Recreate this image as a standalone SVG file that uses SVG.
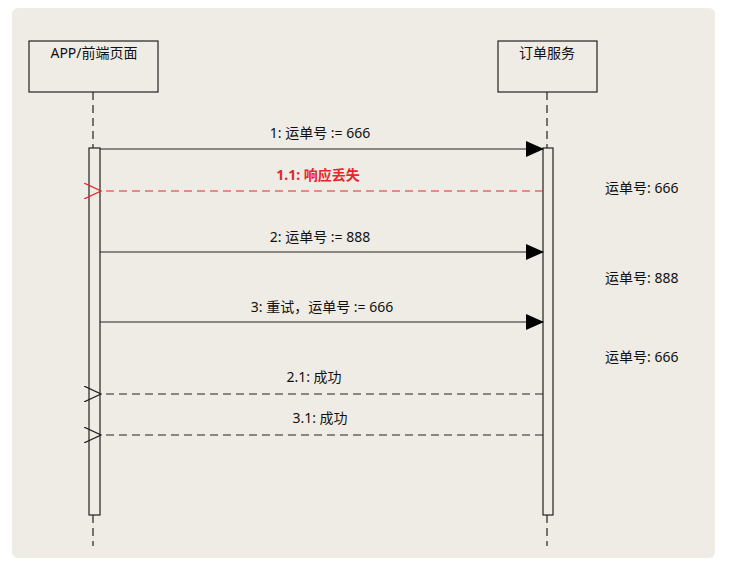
<svg xmlns="http://www.w3.org/2000/svg" width="733" height="567" viewBox="0 0 733 567">
<style>
text{font-family:"Noto Sans","Noto Sans CJK SC",sans-serif;font-size:14px;fill:#111}
.box{fill:none;stroke:#222;stroke-width:1.2}
.life{stroke:#222;stroke-width:1.2;stroke-dasharray:8,5}
.act{fill:#efece6;stroke:#222;stroke-width:1.2}
.sync{stroke:#222;stroke-width:1.2;fill:none}
.ret{stroke:#222;stroke-width:1.2;stroke-dasharray:8,5;fill:none}
.m{text-anchor:middle}
</style>
<defs>
<marker id="fill" markerWidth="18" markerHeight="16" refX="17" refY="8" orient="auto" markerUnits="userSpaceOnUse"><path d="M0,0 L18,8 L0,16 Z" fill="#000"/></marker>
<marker id="open" markerWidth="18" markerHeight="16" refX="1" refY="8" orient="auto-start-reverse" markerUnits="userSpaceOnUse"><path d="M18,0 L1,8 L18,16" fill="none" stroke="#222" stroke-width="1.2"/></marker>
<marker id="openr" markerWidth="18" markerHeight="16" refX="1" refY="8" orient="auto-start-reverse" markerUnits="userSpaceOnUse"><path d="M18,0 L1,8 L18,16" fill="none" stroke="#e8262b" stroke-width="1.2"/></marker>
</defs>
<rect width="733" height="567" fill="#fff"/>
<rect x="12" y="8" width="703" height="550" rx="6" fill="#efece6"/>
<g id="app">
<rect class="box" x="29" y="41" width="129" height="51"/>
<text class="m" x="94" y="58">APP/前端页面</text>
<line class="life" x1="93" y1="92" x2="93" y2="148"/>
<rect class="act" x="89" y="148" width="11" height="367"/>
<line class="life" x1="93" y1="515" x2="93" y2="546"/>
</g>
<g id="order">
<rect class="box" x="498" y="41" width="99" height="51"/>
<text class="m" x="547" y="58">订单服务</text>
<line class="life" x1="547" y1="92" x2="547" y2="148"/>
<rect class="act" x="543" y="148" width="10" height="367"/>
<line class="life" x1="547" y1="515" x2="547" y2="546"/>
</g>
<g id="connectors">
<line class="sync" x1="100" y1="149" x2="543" y2="149" marker-end="url(#fill)"/>
<line x1="543" y1="191" x2="101" y2="191" stroke="#e8262b" stroke-width="1.2" stroke-dasharray="8,5" marker-end="url(#openr)"/>
<line class="sync" x1="100" y1="252" x2="543" y2="252" marker-end="url(#fill)"/>
<line class="sync" x1="100" y1="322" x2="543" y2="322" marker-end="url(#fill)"/>
<line class="ret" x1="543" y1="394" x2="101" y2="394" marker-end="url(#open)"/>
<line class="ret" x1="543" y1="435" x2="101" y2="435" marker-end="url(#open)"/>
</g>
<g id="labels">
<text class="m" x="320" y="138">1: 运单号 := 666</text>
<text class="m" x="318" y="180" style="fill:#e8262b;font-weight:bold">1.1: 响应丢失</text>
<text class="m" x="320" y="242">2: 运单号 := 888</text>
<text class="m" x="322" y="312">3: 重试，运单号 := 666</text>
<text class="m" x="314" y="382">2.1: 成功</text>
<text class="m" x="320" y="423">3.1: 成功</text>
<text x="605" y="193">运单号: 666</text>
<text x="605" y="283">运单号: 888</text>
<text x="605" y="362">运单号: 666</text>
</g>
</svg>
